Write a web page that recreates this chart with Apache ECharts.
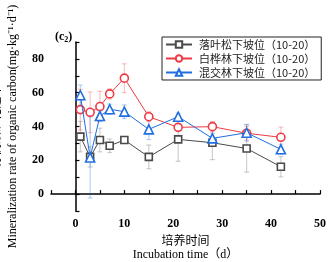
<!DOCTYPE html>
<html>
<head>
<meta charset="utf-8">
<script src="https://cdn.jsdelivr.net/npm/echarts@6/dist/echarts.min.js"></script>
<style>
  html, body { margin: 0; padding: 0; background: #fff; }
  #chart { width: 330px; height: 262px; }
</style>
</head>
<body>
<div id="chart"></div>
<script>
// incubation days
var days = [1, 3, 5, 7, 10, 15, 21, 28, 35, 42];
var seriesNames = ['落叶松下坡位（10-20）', '白桦林下坡位（10-20）', '混交林下坡位（10-20）'];
// mineralization rate values
var larchVals = [34, 22, 32, 28.6, 32, 22, 32.4, 30.4, 27, 16.2];
var birchVals = [50, 48.4, 51.8, 59.3, 68.6, 45.8, 39.5, 39.9, 36, 33.6];
var mixedVals = [58.5, 21.7, 46.2, 50.2, 48.8, 38.3, 45.8, 33, 36.3, 26.5];
// error (± sd)
var larchErr = [9, 6, 7, 4, 2, 7, 13, 10, 14, 6];
var birchErr = [12, 12, 9, 3, 8.5, 3, 2, 3, 4, 6];
var mixedErr = [6, 24, 3, 3, 4, 6, 2, 3, 5, 3];

var colors = ['#4a4a4a', '#ee3a43', '#1f6fe0'];
var errColors = ['rgba(120,120,120,0.35)', 'rgba(238,58,67,0.3)', 'rgba(31,111,224,0.3)'];
var symbols = ['rect', 'circle', 'triangle'];
var symbolSizes = [7, 8, 9];
var serifFont = '"Liberation Serif", "Noto Sans CJK SC", serif';

var vals = [larchVals, birchVals, mixedVals];
var errs = [larchErr, birchErr, mixedErr];

var series = [];
// error bars first (beneath lines)
vals.forEach(function (v, i) {
  series.push({
    type: 'custom',
    silent: true,
    z: 1,
    data: days.map(function (d, k) { return [d, v[k] - errs[i][k], v[k] + errs[i][k]]; }),
    renderItem: function (params, api) {
      var lo = api.coord([api.value(0), api.value(1)]);
      var hi = api.coord([api.value(0), api.value(2)]);
      var hw = 2.5;
      var st = { stroke: errColors[i], lineWidth: 1.2 };
      return {
        type: 'group',
        children: [
          { type: 'line', shape: { x1: lo[0], y1: lo[1], x2: hi[0], y2: hi[1] }, style: st },
          { type: 'line', shape: { x1: lo[0] - hw, y1: lo[1], x2: lo[0] + hw, y2: lo[1] }, style: st },
          { type: 'line', shape: { x1: hi[0] - hw, y1: hi[1], x2: hi[0] + hw, y2: hi[1] }, style: st }
        ]
      };
    }
  });
});
vals.forEach(function (v, i) {
  series.push({
    name: seriesNames[i],
    type: 'line',
    z: 3 + i,
    data: days.map(function (d, k) { return [d, v[k]]; }),
    symbol: symbols[i],
    symbolSize: symbolSizes[i],
    showAllSymbol: true,
    lineStyle: { color: colors[i], width: 1 },
    itemStyle: { color: '#fff', borderColor: colors[i], borderWidth: 1.6 }
  });
});

var chart = echarts.init(document.getElementById('chart'));
chart.setOption({
  animation: false,
  backgroundColor: '#fff',
  textStyle: { fontFamily: serifFont },
  title: {
    text: '(c{s|2})',
    left: 50,
    top: 25,
    textStyle: {
      fontFamily: serifFont,
      fontSize: 12,
      fontWeight: 'bold',
      color: '#000',
      rich: { s: { fontSize: 8, fontWeight: 'bold', verticalAlign: 'bottom', padding: [6, 0, 0, 0], fontFamily: serifFont } }
    }
  },
  legend: {
    left: 162,
    top: 37,
    width: 160,
    orient: 'vertical',
    itemGap: 3,
    itemWidth: 26,
    itemHeight: 8,
    padding: [2, 6, 2, 3],
    borderColor: '#222',
    borderWidth: 1,
    data: seriesNames,
    textStyle: { fontSize: 11, color: '#222', fontFamily: '"Noto Sans CJK SC", serif', padding: [0, 0, 0, 2] }
  },
  grid: { left: 51, right: 10, top: 42, bottom: 51, containLabel: false, outerBoundsMode: 'none' },
  xAxis: {
    type: 'value',
    min: -5,
    max: 50,
    interval: 5,
    name: '培养时间\nIncubation time（d）',
    nameLocation: 'middle',
    nameGap: 22,
    nameTextStyle: { fontSize: 12, color: '#000', fontFamily: serifFont, lineHeight: 13, verticalAlign: 'top' },
    axisLine: { lineStyle: { color: '#000', width: 1.5 } },
    axisTick: { inside: true, length: 4, lineStyle: { color: '#000', width: 1.2 } },
    splitLine: { show: false },
    axisLabel: {
      color: '#000',
      fontSize: 12,
      fontFamily: serifFont,
      fontWeight: 'bold',
      margin: 7,
      formatter: function (v) { return v % 10 === 0 && v >= 0 ? String(v) : ''; }
    }
  },
  yAxis: {
    type: 'value',
    min: -10,
    max: 90,
    interval: 10,
    name: '有机碳矿化速率\nMineralization rate of organic carbon(mg·kg⁻¹·d⁻¹)',
    nameLocation: 'middle',
    nameGap: 26,
    nameTextStyle: { fontSize: 12, color: '#000', fontFamily: serifFont, lineHeight: 16 },
    axisLine: { show: true, lineStyle: { color: '#000', width: 1.5 } },
    axisTick: { show: true, inside: true, length: 4, lineStyle: { color: '#000', width: 1.2 } },
    splitLine: { show: false },
    axisLabel: {
      color: '#000',
      fontSize: 12,
      fontFamily: serifFont,
      fontWeight: 'bold',
      margin: 7,
      formatter: function (v) { return v % 20 === 0 && v >= 0 ? String(v) : ''; }
    }
  },
  series: series
});
</script>
</body>
</html>
